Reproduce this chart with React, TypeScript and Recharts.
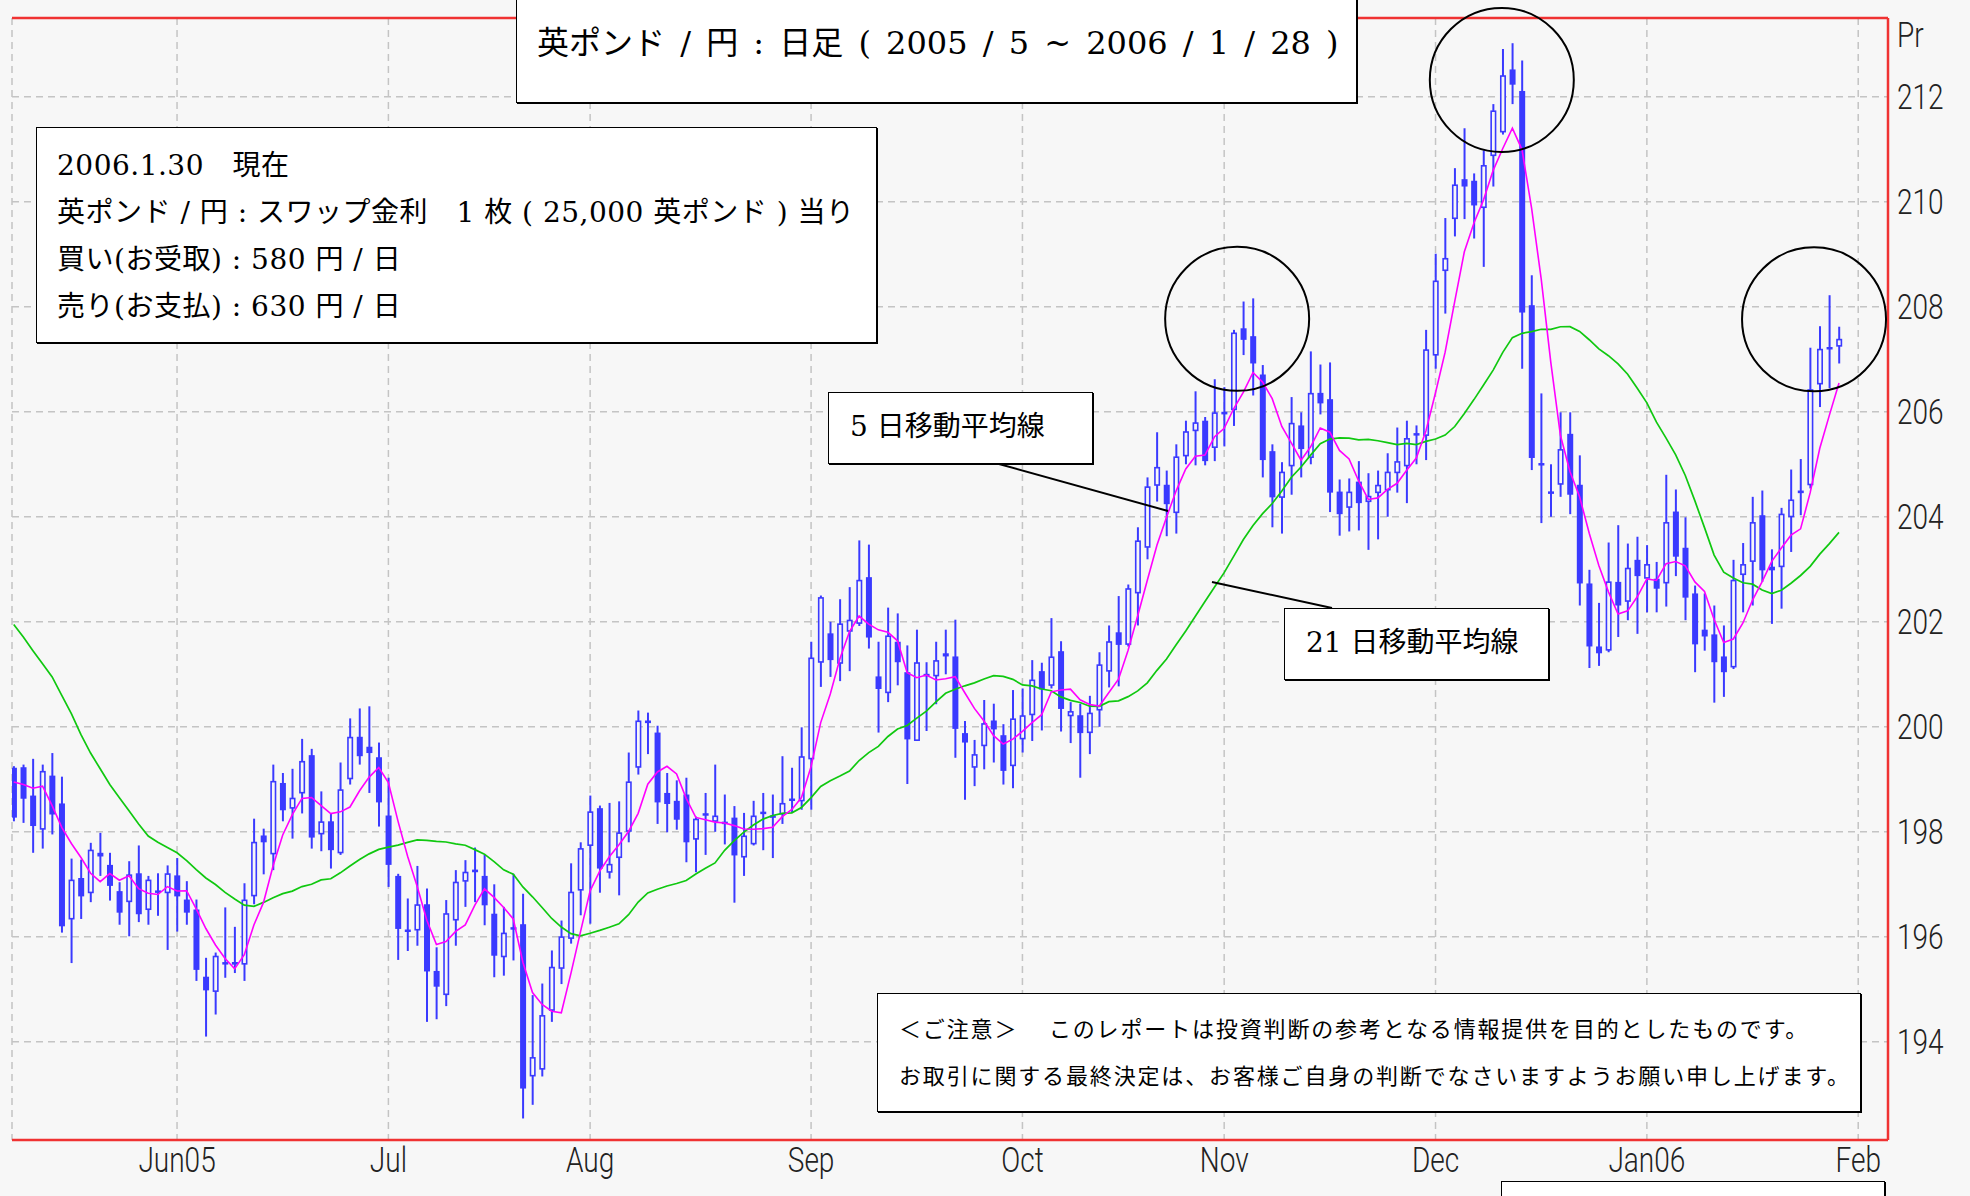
import React from 'react';
import {
  ComposedChart,
  Bar,
  Line,
  XAxis,
  YAxis,
  CartesianGrid,
  ReferenceLine,
  ReferenceDot,
} from 'recharts';

// GBP/JPY daily candles, one row per weekday: [open, high, low, close]
const may05 = [
  [199.22, 199.25, 198.2, 198.27], [199.23, 199.28, 198.17, 198.63], [198.69, 199.39, 197.6, 198.11],
  [198.04, 199.28, 197.68, 199.16], [199.07, 199.5, 197.95, 198.33], [198.54, 199.05, 196.08, 196.2],
  [196.33, 197.49, 195.5, 197.09], [197.12, 197.47, 196.34, 196.77], [196.83, 197.79, 196.66, 197.66],
  [197.6, 197.98, 197.16, 197.53], [197.37, 197.6, 196.69, 196.97], [196.87, 197.04, 196.23, 196.46],
  [196.66, 197.44, 196.01, 197.19], [197.21, 197.74, 196.28, 196.43], [196.51, 197.16, 196.23, 197.09],
  [196.86, 197.21, 196.4, 196.86], [196.83, 197.36, 195.75, 197.21],
];
const jun05 = [
  [197.17, 197.5, 196.1, 196.77], [196.71, 197.06, 196.23, 196.46], [196.52, 196.71, 195.16, 195.37],
  [195.24, 195.6, 194.1, 194.98], [194.95, 195.7, 194.52, 195.64], [195.5, 196.56, 195.22, 195.49],
  [195.52, 196.19, 195.31, 195.47], [195.47, 197.02, 195.16, 196.71], [196.77, 198.25, 196.62, 197.81],
  [197.93, 198.06, 197.19, 197.8], [197.57, 199.28, 197.27, 198.97], [198.93, 199.12, 198.2, 198.41],
  [198.44, 199.2, 197.87, 198.65], [198.73, 199.77, 198.35, 199.35], [199.46, 199.58, 197.68, 197.89],
  [197.95, 198.77, 197.63, 198.2], [198.2, 198.35, 197.3, 197.65], [197.59, 199.32, 197.56, 198.81],
  [199.0, 200.16, 198.9, 199.81], [199.81, 200.35, 199.28, 199.44], [199.62, 200.39, 198.74, 199.5],
  [199.42, 199.7, 198.1, 198.56],
];
const jul05 = [
  [198.31, 199.03, 196.95, 197.37], [197.16, 197.2, 195.56, 196.15], [196.13, 196.73, 195.73, 196.1],
  [196.12, 197.35, 195.83, 196.62], [196.62, 196.92, 194.38, 195.34], [195.35, 195.8, 194.43, 195.05],
  [194.89, 196.7, 194.68, 196.45], [196.31, 197.27, 195.83, 197.05], [197.05, 197.46, 196.57, 197.24],
  [197.28, 197.7, 196.66, 197.23], [197.16, 197.56, 196.22, 196.6], [196.44, 197.0, 195.23, 195.64],
  [195.61, 196.57, 195.26, 196.08], [196.17, 197.2, 195.55, 196.15], [196.24, 196.82, 192.54, 193.11],
  [193.34, 194.89, 192.8, 193.71], [193.47, 195.11, 193.34, 194.51], [194.59, 195.74, 194.38, 195.43],
  [195.39, 196.31, 195.1, 196.01], [195.96, 197.4, 195.87, 196.86], [196.88, 197.8, 196.41, 197.69],
];
const aug05 = [
  [197.73, 198.69, 196.25, 198.39], [198.45, 198.5, 196.84, 197.3], [197.22, 198.55, 197.11, 197.39],
  [197.5, 198.58, 196.79, 197.99], [198.0, 199.51, 197.8, 198.96], [199.22, 200.31, 199.09, 200.12],
  [200.12, 200.27, 199.48, 200.07], [199.89, 200.02, 198.15, 198.56], [198.74, 199.12, 197.99, 198.53],
  [198.59, 198.98, 198.04, 198.23], [198.71, 199.03, 197.42, 197.8], [197.85, 198.29, 197.23, 198.25],
  [198.33, 198.74, 197.56, 198.33], [198.19, 199.28, 198.0, 198.31], [198.19, 198.71, 197.76, 198.15],
  [198.27, 198.49, 196.65, 197.55], [197.51, 198.36, 197.16, 197.93], [197.76, 198.59, 197.74, 198.31],
  [198.36, 198.74, 197.65, 198.36], [198.29, 198.71, 197.5, 198.29], [198.33, 199.44, 198.15, 198.55],
  [198.6, 199.22, 198.36, 198.62], [198.58, 199.99, 198.42, 199.44],
];
const sep05 = [
  [199.38, 201.62, 198.42, 201.32], [201.22, 202.5, 200.76, 202.47], [201.78, 202.0, 200.95, 201.27],
  [201.2, 202.43, 200.87, 201.97], [201.81, 202.66, 201.06, 202.04], [201.96, 203.55, 201.92, 202.8],
  [202.85, 203.47, 201.49, 201.7], [200.96, 201.62, 199.89, 200.72], [200.64, 202.27, 200.47, 201.74],
  [201.62, 202.16, 200.79, 201.23], [201.04, 201.55, 198.91, 199.76], [199.73, 201.85, 199.73, 201.23],
  [201.0, 201.23, 199.92, 200.97], [200.96, 201.62, 200.43, 201.27], [201.4, 201.85, 201.0, 201.34],
  [201.34, 202.04, 199.41, 199.96], [199.88, 200.11, 198.61, 199.7], [199.22, 199.75, 198.87, 199.48],
  [199.63, 200.51, 199.19, 200.07], [200.12, 200.44, 199.32, 199.95], [199.84, 200.05, 198.9, 199.16],
  [199.25, 200.7, 198.83, 200.16],
];
const oct05 = [
  [199.76, 200.73, 199.51, 200.22], [200.22, 201.27, 199.73, 200.9], [201.06, 201.22, 199.93, 200.71],
  [200.78, 202.07, 200.73, 201.34], [201.44, 201.63, 199.91, 200.34], [200.2, 200.47, 199.69, 200.3],
  [200.22, 200.44, 199.03, 199.88], [199.88, 200.59, 199.48, 200.27], [200.31, 201.42, 200.0, 201.19],
  [201.05, 201.93, 200.75, 201.63], [201.8, 202.49, 200.77, 201.56], [201.56, 202.71, 201.53, 202.64],
  [202.54, 203.8, 201.93, 203.55], [203.41, 204.75, 203.19, 204.58], [204.59, 205.61, 204.29, 204.95],
  [204.61, 204.88, 203.63, 204.24], [204.07, 205.38, 203.68, 205.15], [205.15, 205.83, 205.0, 205.63],
  [205.63, 206.39, 204.98, 205.8], [205.83, 205.9, 204.98, 205.06], [205.31, 206.62, 205.06, 205.99],
];
const nov05 = [
  [206.0, 206.47, 205.34, 205.95], [206.03, 207.56, 205.73, 207.51], [207.59, 208.1, 207.08, 207.37],
  [207.44, 208.16, 206.31, 206.92], [206.71, 206.89, 204.75, 205.08], [205.25, 205.38, 203.8, 204.37],
  [204.36, 205.04, 203.68, 204.86], [204.96, 206.28, 204.42, 205.79], [205.74, 205.99, 204.75, 205.29],
  [205.12, 207.15, 205.0, 206.36], [206.36, 206.9, 205.95, 206.16], [206.24, 206.94, 204.09, 204.46],
  [204.48, 204.71, 203.64, 204.05], [204.17, 204.73, 203.72, 204.48], [204.67, 205.06, 203.74, 204.26],
  [204.28, 204.83, 203.37, 204.4], [204.45, 204.88, 203.57, 204.61], [204.5, 205.21, 204.0, 204.86],
  [204.83, 205.7, 204.46, 205.06], [204.96, 205.83, 204.26, 205.5], [205.58, 205.74, 205.0, 205.56],
  [205.54, 207.56, 205.08, 207.19],
];
const dec05 = [
  [207.07, 209.01, 206.82, 208.5], [208.68, 209.69, 207.87, 208.93], [209.67, 210.64, 209.34, 210.33],
  [210.43, 211.4, 209.67, 210.29], [210.4, 210.54, 209.3, 209.93], [209.88, 210.98, 208.76, 210.7],
  [210.87, 211.86, 210.29, 211.74], [211.32, 212.91, 211.28, 212.41], [212.52, 213.02, 211.86, 212.23],
  [212.11, 212.69, 206.82, 207.89], [208.03, 208.6, 204.89, 205.12], [205.0, 206.35, 203.88, 205.0],
  [204.46, 205.0, 204.0, 204.46], [204.61, 205.99, 204.38, 205.29], [205.58, 205.99, 204.05, 204.42],
  [204.61, 205.17, 202.31, 202.73], [202.73, 202.99, 201.12, 201.53], [201.53, 202.36, 201.16, 201.4],
  [201.45, 203.51, 201.42, 202.77], [202.76, 203.84, 201.71, 202.31], [202.38, 203.49, 202.03, 203.03],
  [203.18, 203.62, 201.77, 202.87],
];
const jan06 = [
  [202.82, 203.46, 202.18, 203.1], [202.82, 203.14, 202.18, 202.63], [202.73, 204.8, 202.29, 203.9],
  [204.1, 204.52, 202.87, 203.24], [203.41, 203.99, 202.03, 202.46], [202.54, 202.69, 201.04, 201.57],
  [201.85, 202.54, 201.45, 201.72], [201.76, 202.31, 200.46, 201.23], [201.34, 201.93, 200.57, 201.04],
  [201.13, 203.18, 201.1, 202.8], [202.89, 203.5, 202.18, 203.1], [203.14, 204.38, 202.31, 203.9],
  [204.03, 204.5, 202.76, 202.98], [203.05, 203.38, 201.96, 202.98], [203.04, 204.17, 202.25, 204.06],
  [203.99, 204.9, 203.33, 204.33], [204.45, 205.1, 204.03, 204.5], [204.6, 207.22, 204.54, 206.43],
  [206.52, 207.63, 206.09, 207.2], [207.2, 208.22, 206.45, 207.22], [207.24, 207.62, 206.92, 207.39],
];

// moving-average values at the left edge (their earlier closes are off the chart)
const ma5Head = [198.95, 198.9, 198.83, 198.87];
const ma21Head = [
  201.95, 201.71, 201.45, 201.2, 200.95, 200.6, 200.25, 199.85, 199.5, 199.2,
  198.9, 198.65, 198.4, 198.15, 197.92, 197.8, 197.7, 197.6, 197.45, 197.28,
];

const monthTickIdx = [17, 39, 60, 83, 105, 126, 148, 170, 192];
const monthTickLabels = ['Jun05', 'Jul', 'Aug', 'Sep', 'Oct', 'Nov', 'Dec', 'Jan06', 'Feb'];
const priceTicks = [194, 196, 198, 200, 202, 204, 206, 208, 210, 212];

// circled highs: [day index, price]
const peakMarks = [
  [127.35, 207.77],
  [154.9, 212.32],
  [187.4, 207.76],
];

const X_DOMAIN: [number, number] = [-0.18, 195.1];
const Y_DOMAIN: [number, number] = [192.13, 213.5];

const CANDLE = '#3a3aff';
const BG = '#f7f7f7';
const FRAME = '#f03232';
const BODY_W = 6;

const ohlc = [may05, jun05, jul05, aug05, sep05, oct05, nov05, dec05, jan06].flat();
const closes = ohlc.map((d) => d[3]);
const avg = (arr: number[]) => arr.reduce((s, v) => s + v, 0) / arr.length;

const rows = ohlc.map(([o, h, l, c], i) => ({
  i,
  o,
  h,
  l,
  c,
  range: [l, h],
  ma5: i < 4 ? ma5Head[i] : avg(closes.slice(i - 4, i + 1)),
  ma21: i < 20 ? ma21Head[i] : avg(closes.slice(i - 20, i + 1)),
}));

function Candle(props: any) {
  const { x, y, width, height, payload } = props;
  if (x == null || y == null || !payload) return null;
  const { o, h, l, c } = payload;
  const top = Math.min(y, y + height);
  const span = Math.abs(height);
  const toY = (v: number) => top + ((h - v) / (h - l)) * span;
  const cx = x + width / 2;
  const yo = toY(o);
  const yc = toY(c);
  const bTop = Math.min(yo, yc);
  const bBot = Math.max(yo, yc);
  let body;
  if (bBot - bTop < 2.5) {
    const ym = (bTop + bBot) / 2;
    body = <line x1={cx - BODY_W / 2} x2={cx + BODY_W / 2} y1={ym} y2={ym} stroke={CANDLE} strokeWidth={2.5} />;
  } else if (c > o) {
    body = (
      <rect x={cx - BODY_W / 2 + 0.8} y={bTop + 0.8} width={BODY_W - 1.6} height={bBot - bTop - 1.6}
        fill={BG} stroke={CANDLE} strokeWidth={1.6} />
    );
  } else {
    body = <rect x={cx - BODY_W / 2} y={bTop} width={BODY_W} height={bBot - bTop} fill={CANDLE} />;
  }
  return (
    <g>
      <line x1={cx} x2={cx} y1={toY(h)} y2={toY(l)} stroke={CANDLE} strokeWidth={2} />
      {body}
    </g>
  );
}

const tickFont = { fontFamily: 'Roboto, "Liberation Sans", sans-serif', fontWeight: 300, fontSize: 35, fill: '#222' };

const XTick = ({ x, y, payload }: any) => {
  const k = monthTickIdx.indexOf(payload.value);
  return (
    <text transform={`translate(${x},${y + 24}) scale(0.8,1)`} textAnchor="middle" {...tickFont}>
      {monthTickLabels[k]}
    </text>
  );
};

const YTick = ({ x, y, payload }: any) => (
  <text transform={`translate(${x + 1},${y + 12.5}) scale(0.8,1)`} textAnchor="start" {...tickFont}>
    {payload.value}
  </text>
);

const jpFont = '"DejaVu Serif", "Noto Sans CJK JP", serif';
const gothic = '"Noto Sans CJK JP", sans-serif';

const boxStyle: React.CSSProperties = {
  position: 'absolute',
  boxSizing: 'border-box',
  background: '#fff',
  border: '1.5px solid #000',
  boxShadow: '1px 1px 0 #000',
  color: '#000',
  whiteSpace: 'pre',
};

export default function App() {
  return (
    <div style={{ position: 'absolute', left: 0, top: 0, width: 1970, height: 1196, background: BG, overflow: 'hidden' }}>
      <ComposedChart width={1970} height={1196} data={rows} margin={{ top: 18, right: 0, bottom: 0, left: 12 }}>
        <CartesianGrid stroke="#c4c4c4" strokeWidth={1.5} strokeDasharray="7 5" />
        <XAxis
          dataKey="i"
          type="number"
          domain={X_DOMAIN}
          allowDataOverflow
          ticks={monthTickIdx}
          interval={0}
          height={56}
          axisLine={false}
          tickLine={false}
          tick={<XTick />}
        />
        <YAxis
          orientation="right"
          type="number"
          domain={Y_DOMAIN}
          allowDataOverflow
          ticks={priceTicks}
          interval={0}
          width={82}
          axisLine={false}
          tickLine={false}
          tick={<YTick />}
        />
        <Bar dataKey="range" barSize={BODY_W} shape={<Candle />} isAnimationActive={false} />
        <Line dataKey="ma21" type="linear" stroke="#10c810" strokeWidth={1.7} dot={false} isAnimationActive={false} />
        <Line dataKey="ma5" type="linear" stroke="#ff00ff" strokeWidth={1.6} dot={false} isAnimationActive={false} />
        {peakMarks.map(([i, p]) => (
          <ReferenceDot key={i} x={i} y={p} r={72} fill="none" stroke="#000" strokeWidth={2} ifOverflow="visible" />
        ))}
        <ReferenceLine y={Y_DOMAIN[1]} stroke={FRAME} strokeWidth={2.5} />
        <ReferenceLine y={Y_DOMAIN[0]} stroke={FRAME} strokeWidth={2.5} />
        <ReferenceLine x={X_DOMAIN[1]} stroke={FRAME} strokeWidth={2.5} />
      </ComposedChart>

      <svg width={1970} height={1196} style={{ position: 'absolute', left: 0, top: 0, pointerEvents: 'none' }}>
        <line x1={999} y1={464} x2={1168} y2={511} stroke="#000" strokeWidth={2} />
        <line x1={1212} y1={582} x2={1332} y2={608} stroke="#000" strokeWidth={2} />
        <text transform="translate(1897,47) scale(0.8,1)" {...tickFont}>Pr</text>
      </svg>

      <div style={{ ...boxStyle, left: 516, top: -4, width: 841, height: 107, fontFamily: jpFont, fontSize: 32 }}>
        <div style={{ position: 'absolute', left: 20, top: 26, lineHeight: '40px', wordSpacing: 5 }}>
          英ポンド / 円 : 日足 ( 2005 / 5 ~ 2006 / 1 / 28 )
        </div>
      </div>

      <div style={{ ...boxStyle, left: 36, top: 127, width: 841, height: 216, fontFamily: jpFont, fontSize: 28, lineHeight: '47px', padding: '14px 0 0 20px', letterSpacing: 0.5 }}>
        <div>2006.1.30　現在</div>
        <div>英ポンド / 円 : スワップ金利　1 枚 ( 25,000 英ポンド ) 当り</div>
        <div>買い(お受取) : 580 円 / 日</div>
        <div>売り(お支払) : 630 円 / 日</div>
      </div>

      <div style={{ ...boxStyle, left: 828, top: 392, width: 265, height: 72, fontFamily: jpFont, fontSize: 28, lineHeight: '68px', paddingLeft: 21 }}>
        5 日移動平均線
      </div>
      <div style={{ ...boxStyle, left: 1284, top: 608, width: 265, height: 72, fontFamily: jpFont, fontSize: 28, lineHeight: '68px', paddingLeft: 21 }}>
        21 日移動平均線
      </div>

      <div style={{ ...boxStyle, left: 877, top: 993, width: 984, height: 119, fontFamily: gothic, fontSize: 22, lineHeight: '47px', padding: '10px 0 0 21px', letterSpacing: 1.85 }}>
        <div>＜ご注意＞　 このレポートは投資判断の参考となる情報提供を目的としたものです。</div>
        <div>お取引に関する最終決定は、お客様ご自身の判断でなさいますようお願い申し上げます。</div>
      </div>

      <div style={{ ...boxStyle, left: 1501, top: 1181, width: 384, height: 40 }} />
    </div>
  );
}
